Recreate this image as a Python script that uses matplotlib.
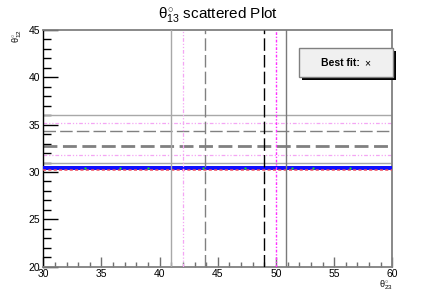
import matplotlib
matplotlib.use("Agg")
import matplotlib.pyplot as plt
from matplotlib.patches import Rectangle
from matplotlib.ticker import MultipleLocator

plt.rcParams['font.family'] = ['Liberation Sans', 'DejaVu Sans']
plt.rcParams['mathtext.fontset'] = 'custom'
plt.rcParams['mathtext.rm'] = 'Liberation Sans'
plt.rcParams['mathtext.it'] = 'Liberation Sans'
plt.rcParams['mathtext.bf'] = 'Liberation Sans:bold'

# ---- data ----
x_range = [30, 60]
y_range = [20, 45]
vline_x = [41.0, 42.0, 43.9, 49.0, 50.0, 50.9]
vline_style = ['solid', 'pinkdot', 'graydash', 'blackdash', 'magdot', 'solid2']
hline_y = [36.0, 35.15, 34.3, 32.7, 31.8, 30.95]
hline_style = ['solid', 'pinkdot', 'graydash', 'thickdash', 'pinkdot', 'solid']
band_low, band_mid, band_high = 30.18, 30.29, 30.6
red_row_y = 30.23
green_x = [33.6, 36.6, 39.0, 43.7, 47.3, 51.4, 53.2, 56.4]
x_ticks = [30, 35, 40, 45, 50, 55, 60]
y_ticks = [20, 25, 30, 35, 40, 45]

styles = {
    'solid': dict(color='#a8a8a8', lw=1.0, ls='-'),
    'solid2': dict(color='#7a7a7a', lw=1.0, ls='-'),
    'pinkdot': dict(color='#f4a6f4', lw=0.9, ls=(0, (3, 1.5, 1, 1.5, 1, 1.5))),
    'magdot': dict(color='#ff30ff', lw=1.0, ls=(0, (2, 1.2, 1, 1.2))),
    'graydash': dict(color='#808080', lw=1.0, ls=(0, (9, 3))),
    'blackdash': dict(color='#000000', lw=1.0, ls=(0, (9, 3))),
    'thickdash': dict(color='#808080', lw=2.0, ls=(0, (5, 2))),
}

fig = plt.figure(figsize=(4.36, 2.97), dpi=100)
ax = fig.add_axes([0.0993, 0.102, 0.8005, 0.797])
ax.set_xlim(*x_range)
ax.set_ylim(*y_range)

# band (scatter of points)
ax.axhspan(band_low, band_high, color='#1010ff', lw=0, zorder=3)
ax.axhline(red_row_y, color='#f04a5a', lw=1.1, ls=(0, (2, 1.5)), zorder=4)
ax.plot(green_x, [band_mid + 0.1] * len(green_x), ls='none', marker='s',
        ms=2.0, mec='none', mfc='#22dd22', zorder=5)

for x, s in zip(vline_x, vline_style):
    ax.axvline(x, zorder=6, **styles[s])
for y, s in zip(hline_y, hline_style):
    ax.axhline(y, zorder=2, **styles[s])

ax.set_xticks(x_ticks)
ax.set_yticks(y_ticks)
ax.xaxis.set_minor_locator(MultipleLocator(1))
ax.yaxis.set_minor_locator(MultipleLocator(1))
ax.tick_params(axis='x', which='major', direction='in', length=7, width=1,
               color='#707070', labelsize=7.5, pad=2, top=False)
ax.tick_params(axis='x', which='minor', direction='in', length=3.5, width=1,
               color='#707070', top=False)
ax.tick_params(axis='y', which='major', direction='in', length=11, width=1,
               color='#000000', labelsize=7.5, pad=2, right=False)
ax.tick_params(axis='y', which='minor', direction='in', length=5.5, width=1,
               color='#000000', right=False)

ax.spines['left'].set_color('#000000')
ax.spines['left'].set_linewidth(1.0)
for sp in ['top', 'right', 'bottom']:
    ax.spines[sp].set_color('#808080')
    ax.spines[sp].set_linewidth(1.3)
ax.set_zorder(1)

# titles
fig.text(0.5, 0.95, r'$\theta^{\circ}_{13}$ scattered Plot', ha='center',
         va='center', fontsize=11)
fig.text(17 / 436, 1 - 36 / 297, r'$\theta^{\circ}_{12}$', rotation=90,
         ha='center', va='center', fontsize=6.5)
fig.text(386 / 436, 1 - 285 / 297, r'$\theta^{\circ}_{23}$', ha='center',
         va='center', fontsize=6.5)

# legend box with shadow
W, H = 436.0, 297.0
bx0, bx1, by0, by1 = 298.7, 392.7, 48.3, 77.3
fig.patches.append(Rectangle(((bx0 + 3) / W, 1 - (by1 + 2.5) / H),
                             (bx1 - bx0) / W, (by1 - by0) / H,
                             transform=fig.transFigure, facecolor='black',
                             edgecolor='none', zorder=10))
fig.patches.append(Rectangle((bx0 / W, 1 - by1 / H), (bx1 - bx0) / W,
                             (by1 - by0) / H, transform=fig.transFigure,
                             facecolor='#f0f0f0', edgecolor='#808080',
                             lw=1.0, zorder=11))
fig.text(340 / W, 1 - 63.5 / H, 'Best fit:', fontweight='bold', fontsize=7.5,
         ha='center', va='center', zorder=12)
fig.text(367 / W, 1 - 63.5 / H, '×', fontsize=7.5, ha='center', va='center',
         zorder=12)

fig.savefig('out.png', dpi=100)
